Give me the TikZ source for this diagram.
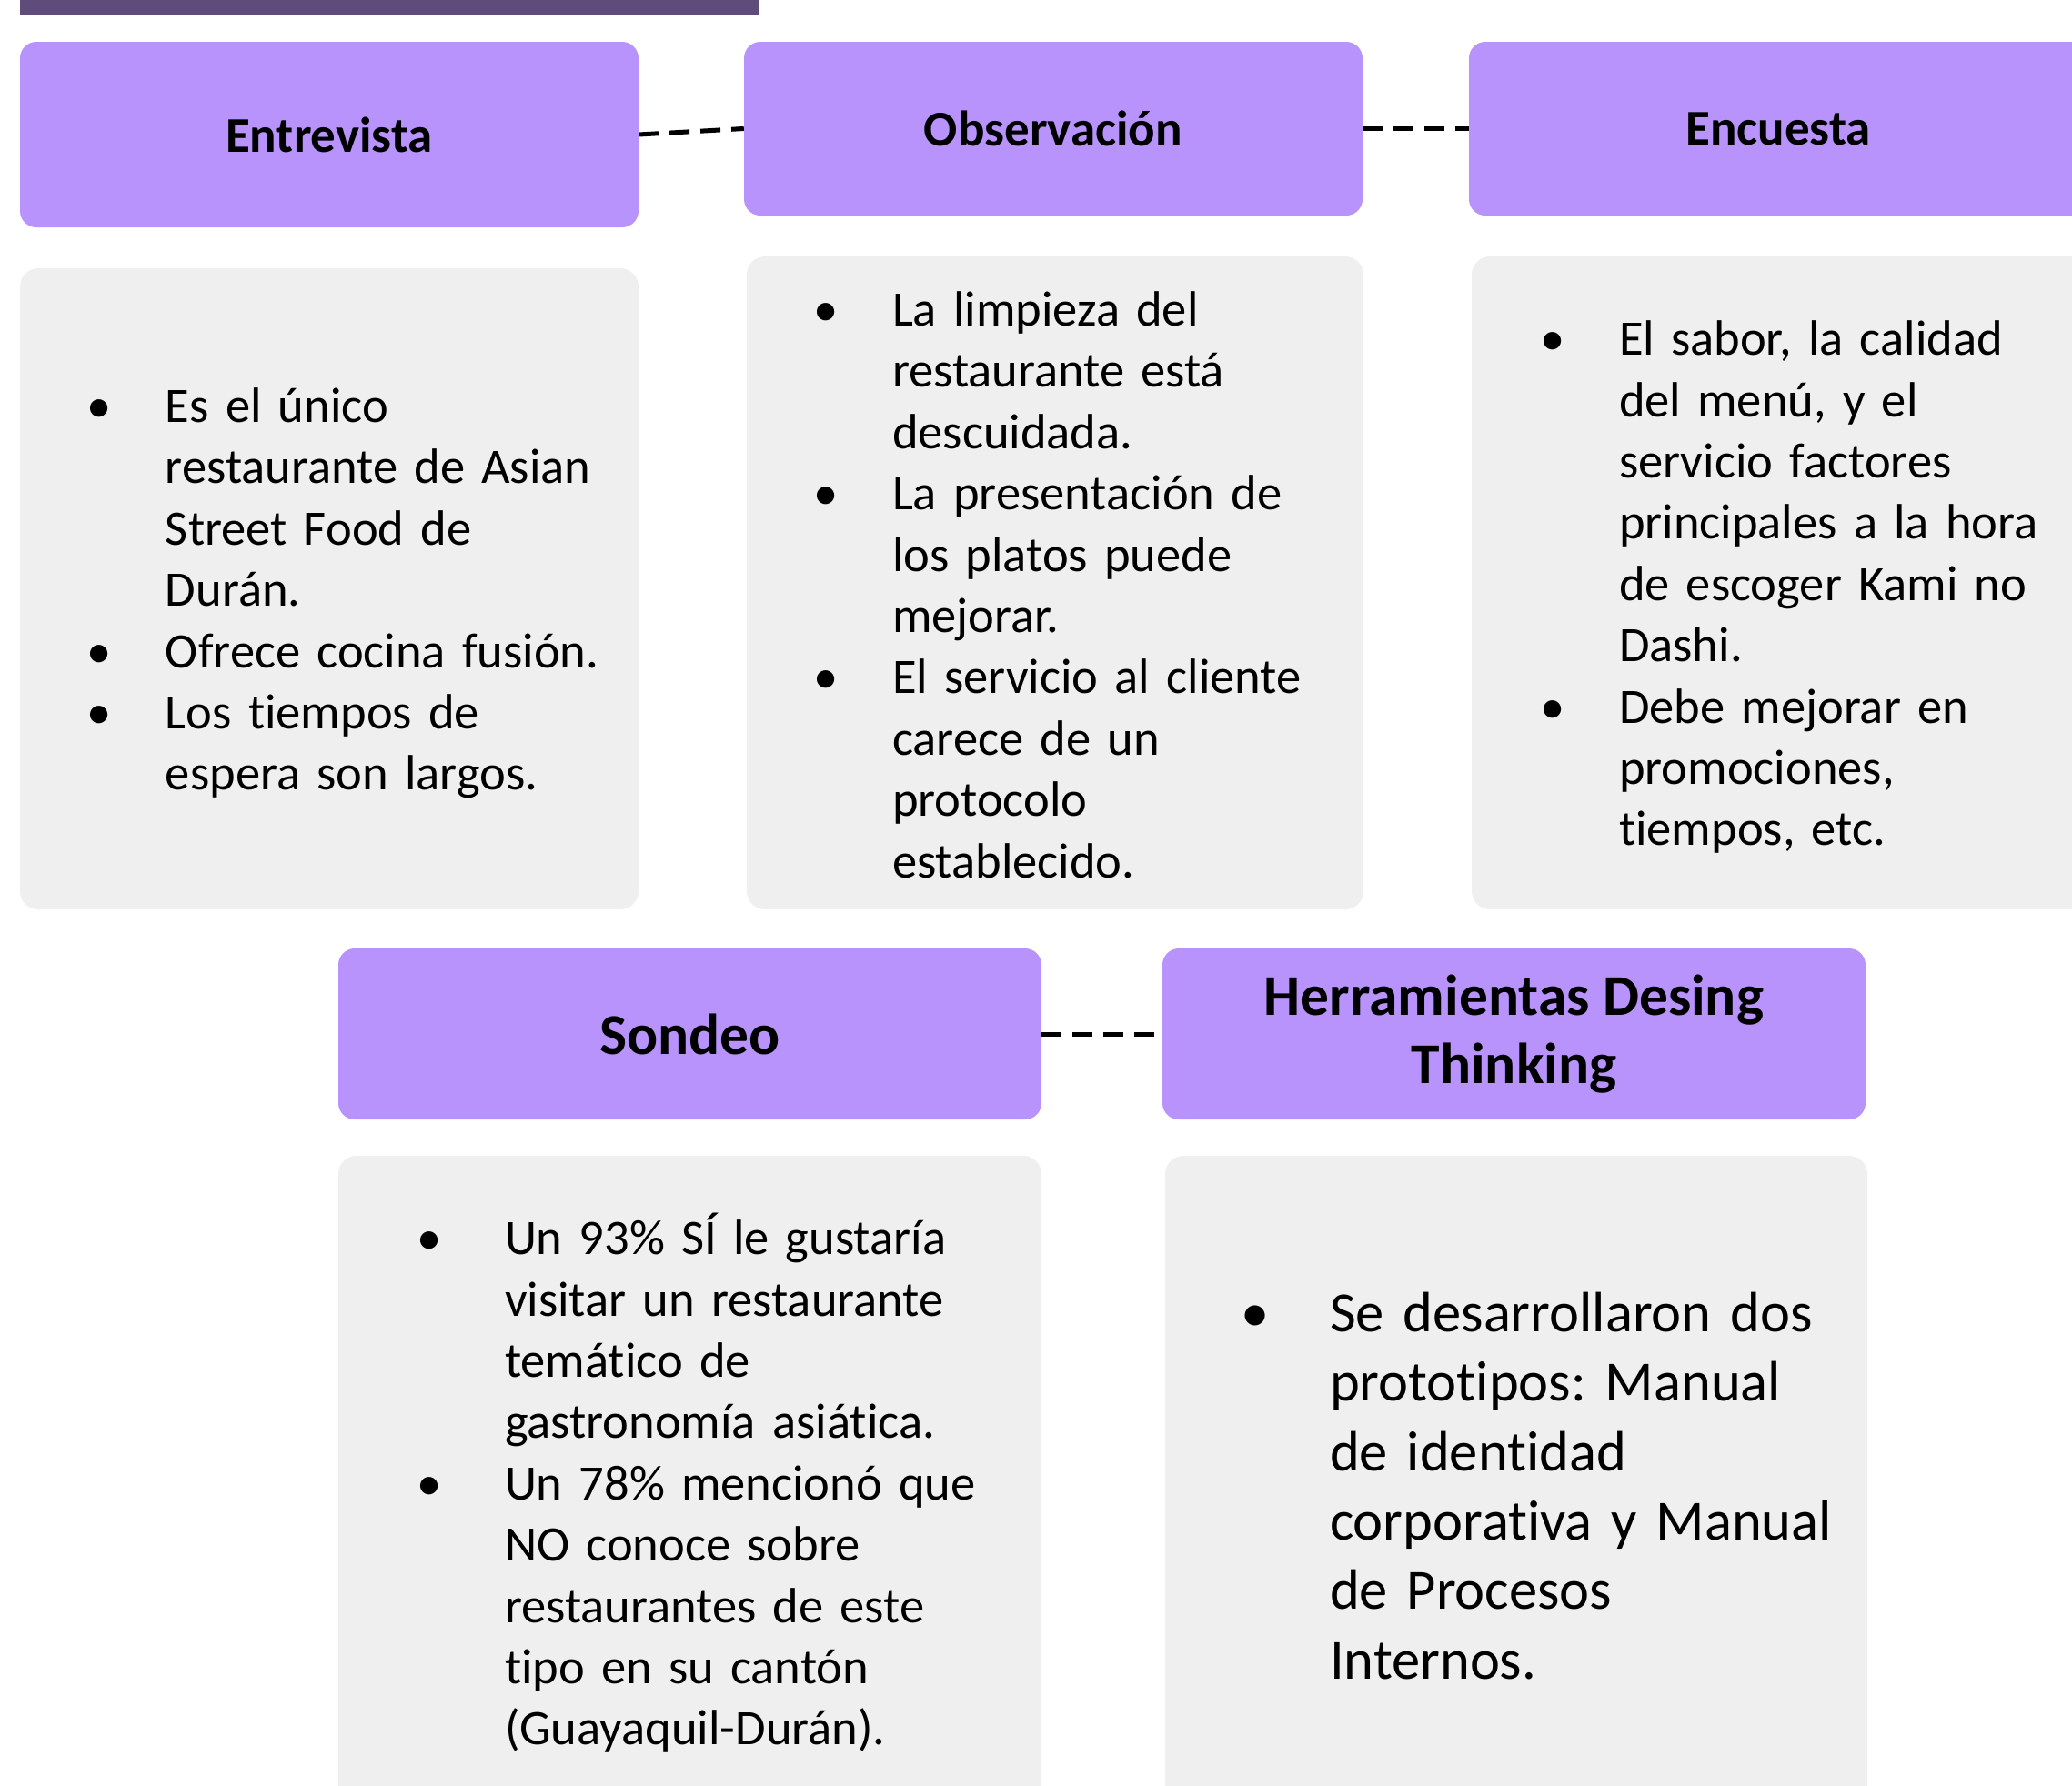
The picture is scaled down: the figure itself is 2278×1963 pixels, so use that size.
\documentclass[tikz,border=0pt]{standalone}
\usepackage{fontspec}
\setmainfont{Carlito}[Ligatures=NoCommon]

\definecolor{lila}{HTML}{B893FC}
\definecolor{grisclaro}{HTML}{EFEFEF}
\definecolor{morado}{HTML}{5F4C7A}

% lista de viñetas: #1 centro de la viñeta, #2 sangría del texto, #3 fondo extra
\newenvironment{vinetas}[3]{%
  \def\vinetasfondo{#3}%
  \begin{list}{\textbullet}{%
    \setlength{\leftmargin}{#2}%
    \setlength{\labelwidth}{\dimexpr#2-#1\relax}%
    \setlength{\labelsep}{0pt}\setlength{\itemindent}{0pt}%
    \setlength{\topsep}{0pt}\setlength{\partopsep}{0pt}%
    \setlength{\itemsep}{0pt}\setlength{\parsep}{0pt}%
    \renewcommand{\makelabel}[1]{\makebox[0pt]{##1}\hfil}}}
  {\rule[-\vinetasfondo]{0pt}{\vinetasfondo}\end{list}}

\begin{document}
\frenchspacing
\begin{tikzpicture}[x=1pt, y=-1pt,
  cabecera/.style={fill=lila, rounded corners=18pt, inner sep=0pt, align=center,
    font=\bfseries\fontsize{55}{67}\selectfont},
  cuerpo/.style={fill=grisclaro, rounded corners=20pt, inner sep=0pt,
    font=\fontsize{54.5}{67.4}\selectfont},
  conector/.style={line width=5pt, dash pattern=on 22pt off 12pt}]

\useasboundingbox (0,0) rectangle (2278,1963);

% barra superior
\fill[morado] (22,0) rectangle (835,17);

% cabeceras
\node[cabecera, minimum width=680pt, minimum height=204pt] (ent) at (362,148) {Entrevista};
\node[cabecera, minimum width=680pt, minimum height=191pt] (obs) at (1158,141.5) {Observación};
\node[cabecera, minimum width=680pt, minimum height=191pt] (enc) at (1955,141.5) {Encuesta};
\node[cabecera, minimum width=773pt, minimum height=188pt,
  font=\bfseries\fontsize{63.5}{75.5}\selectfont] (son) at (758.5,1137) {Sondeo};
\node[cabecera, minimum width=773pt, minimum height=188pt,
  font=\bfseries\fontsize{63.5}{75.5}\selectfont] (her) at (1664.5,1137) {Herramientas Desing\\Thinking};

% cuerpos
\node[cuerpo, text width=680pt, minimum height=705pt] (entB) at (362,647.5) {%
  \begin{vinetas}{87pt}{160pt}{29pt}
  \item Es el único\\restaurante de Asian\\Street Food de\\Durán.
  \item Ofrece cocina fusión.
  \item Los tiempos de\\espera son largos.
  \end{vinetas}};
\node[cuerpo, text width=678pt, minimum height=718pt] (obsB) at (1160,641) {%
  \begin{vinetas}{87pt}{160pt}{26pt}
  \item La limpieza del\\restaurante está\\descuidada.
  \item La presentación de\\los platos puede\\mejorar.
  \item El servicio al cliente\\carece de un\\protocolo\\establecido.
  \end{vinetas}};
\node[cuerpo, text width=678pt, minimum height=718pt] (encB) at (1957,641) {%
  \begin{vinetas}{89pt}{162pt}{29pt}
  \item El sabor, la calidad\\del menú, y el\\servicio factores\\principales a la hora\\de escoger Kami no\\Dashi.
  \item Debe mejorar en\\promociones,\\tiempos, etc.
  \end{vinetas}};
\node[cuerpo, text width=773pt, minimum height=730pt] (sonB) at (758.5,1636) {%
  \begin{vinetas}{100pt}{183pt}{41pt}
  \item Un 93\% SÍ le gustaría\\visitar un restaurante\\temático de\\gastronomía asiática.
  \item Un 78\% mencionó que\\NO conoce sobre\\restaurantes de este\\tipo en su cantón\\(Guayaquil-Durán).
  \end{vinetas}};
\node[cuerpo, text width=772pt, minimum height=730pt,
  font=\fontsize{62.5}{76.4}\selectfont] (herB) at (1667,1636) {%
  \begin{vinetas}{99pt}{181pt}{38pt}
  \item Se desarrollaron dos\\prototipos: Manual\\de identidad\\corporativa y Manual\\de Procesos\\Internos.
  \end{vinetas}};

% conectores
\foreach \a/\b in {ent/obs, obs/enc, son/her}{
  \draw[conector] (\a.east) -- (\b.west);
}

\end{tikzpicture}
\end{document}
